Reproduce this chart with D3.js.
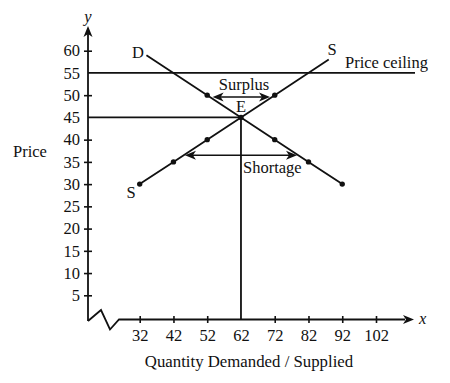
<!DOCTYPE html>
<html><head><meta charset="utf-8">
<script src="https://cdn.jsdelivr.net/npm/d3@7"></script>
<style>body{margin:0;background:#fff}svg{display:block}text{font-family:"Liberation Serif","Times New Roman",serif;fill:#111}</style>
</head><body>
<script>
const yTicks = [5,10,15,20,25,30,35,40,45,50,55,60];
const xTicks = [32,42,52,62,72,82,92,102];
const demandQty = [34,52,62,72,82,92];
const demandPrice = [59,50,45,40,35,30];
const demandDotQty = [52,72,82,92];
const demandDotPrice = [50,40,35,30];
const supplyQty = [32,42,52,62,72,88];
const supplyPrice = [30,35,40,45,50,58];
const supplyDotQty = [32,42,52,72];
const supplyDotPrice = [30,35,40,50];
const eqQty = 62, eqPrice = 45;
const ceilingPrice = 55;
const surplusPrice = 49.6, surplusFrom = 53.6, surplusTo = 70.6;
const shortagePrice = 36.5, shortageFrom = 45.4, shortageTo = 78.6;

const W=450,H=383;
const svg=d3.select("body").append("svg").attr("width",W).attr("height",H);
const x=d3.scaleLinear().domain([32,102]).range([139.7,376]);
const y=d3.scaleLinear().domain([5,60]).range([295.3,50.7]);
const ox=88, oy=320;
const ink="#111";
const FS=16.5;

function head(tx,ty,dir){
  const L=11,Wd=4.5,n=3;
  let p;
  if(dir==='r') p=[[tx,ty],[tx-L,ty-Wd],[tx-L+n,ty],[tx-L,ty+Wd]];
  if(dir==='l') p=[[tx,ty],[tx+L,ty-Wd],[tx+L-n,ty],[tx+L,ty+Wd]];
  if(dir==='u') p=[[tx,ty],[tx-Wd,ty+L],[tx,ty+L-n],[tx+Wd,ty+L]];
  svg.append("path").attr("d","M"+p.map(d=>d.join(",")).join("L")+"Z").attr("fill",ink);
}

// y axis
const ya=svg.append("g").attr("transform",`translate(${ox},0)`).call(d3.axisLeft(y).tickValues(yTicks).tickSize(4).tickPadding(4));
ya.select(".domain").remove();
ya.selectAll(".tick line").attr("x1",-4).attr("x2",4).attr("stroke",ink).attr("stroke-width",1.6);
ya.selectAll(".tick text").attr("font-size",FS).style("font-family","Liberation Serif").attr("fill",ink);
ya.selectAll(".tick").filter(d=>d===45||d===55).select("line").remove();
svg.append("line").attr("x1",ox).attr("x2",ox).attr("y1",oy+1).attr("y2",34).attr("stroke",ink).attr("stroke-width",1.8);
head(ox,26,'u');
svg.append("text").attr("x",ox).attr("y",22).attr("text-anchor","middle").attr("font-size",FS).attr("font-style","italic").text("y");

// x axis
const xa=svg.append("g").attr("transform",`translate(0,${oy})`).call(d3.axisBottom(x).tickValues(xTicks).tickSize(4).tickPadding(5));
xa.select(".domain").remove();
xa.selectAll(".tick line").attr("y1",-4).attr("y2",3).attr("stroke",ink).attr("stroke-width",1.6);
xa.selectAll(".tick").filter(d=>d===eqQty).select("line").remove();
xa.selectAll(".tick text").attr("font-size",FS).style("font-family","Liberation Serif").attr("fill",ink);
svg.append("path").attr("d",`M${ox},${oy+1}L101,310L110,329.5L119,319.5L405,319.5`).attr("fill","none").attr("stroke",ink).attr("stroke-width",1.8);
head(414,319.5,'r');
svg.append("text").attr("x",419).attr("y",324).attr("font-size",FS).attr("font-style","italic").text("x");

// axis titles
svg.append("text").attr("x",13).attr("y",157).attr("font-size",FS).text("Price");
svg.append("text").attr("x",249).attr("y",367).attr("text-anchor","middle").attr("font-size",16.8).text("Quantity Demanded / Supplied");

// price ceiling and equilibrium lines
svg.append("line").attr("x1",ox).attr("x2",415).attr("y1",y(ceilingPrice)).attr("y2",y(ceilingPrice)).attr("stroke",ink).attr("stroke-width",1.8);
svg.append("text").attr("x",345).attr("y",68).attr("font-size",16.5).text("Price ceiling");
svg.append("line").attr("x1",ox).attr("x2",x(eqQty)).attr("y1",y(eqPrice)).attr("y2",y(eqPrice)).attr("stroke",ink).attr("stroke-width",1.8);
svg.append("line").attr("x1",x(eqQty)).attr("x2",x(eqQty)).attr("y1",y(eqPrice)).attr("y2",oy).attr("stroke",ink).attr("stroke-width",1.8);

// curves
const line=d3.line().x(d=>x(d[0])).y(d=>y(d[1]));
svg.append("path").attr("d",line(demandQty.map((q,i)=>[q,demandPrice[i]]))).attr("fill","none").attr("stroke",ink).attr("stroke-width",1.8);
svg.append("path").attr("d",line(supplyQty.map((q,i)=>[q,supplyPrice[i]]))).attr("fill","none").attr("stroke",ink).attr("stroke-width",1.8);

const dots=[...demandDotQty.map((q,i)=>[q,demandDotPrice[i]]),...supplyDotQty.map((q,i)=>[q,supplyDotPrice[i]]),[eqQty,eqPrice]];
svg.selectAll("circle.pt").data(dots).join("circle").attr("class","pt").attr("cx",d=>x(d[0])).attr("cy",d=>y(d[1])).attr("r",2.7).attr("fill",ink);

// labels
svg.append("text").attr("x",138).attr("y",58).attr("text-anchor","middle").attr("font-size",FS).text("D");
svg.append("text").attr("x",332).attr("y",55).attr("text-anchor","middle").attr("font-size",FS).text("S");
svg.append("text").attr("x",131).attr("y",198).attr("text-anchor","middle").attr("font-size",FS).text("S");
svg.append("text").attr("x",241).attr("y",112).attr("text-anchor","middle").attr("font-size",FS).text("E");

// surplus arrow
const sy=y(surplusPrice);
svg.append("line").attr("x1",x(surplusFrom)+6).attr("x2",x(surplusTo)-6).attr("y1",sy).attr("y2",sy).attr("stroke",ink).attr("stroke-width",1.5);
head(x(surplusFrom),sy,'l'); head(x(surplusTo),sy,'r');
svg.append("text").attr("x",244).attr("y",90).attr("text-anchor","middle").attr("font-size",FS).text("Surplus");

// shortage arrow
const shy=y(shortagePrice);
svg.append("line").attr("x1",x(shortageFrom)+6).attr("x2",x(shortageTo)-6).attr("y1",shy).attr("y2",shy).attr("stroke",ink).attr("stroke-width",1.5);
head(x(shortageFrom),shy,'l'); head(x(shortageTo),shy,'r');
svg.append("text").attr("x",243).attr("y",173).attr("font-size",FS).text("Shortage");
</script>
</body></html>
